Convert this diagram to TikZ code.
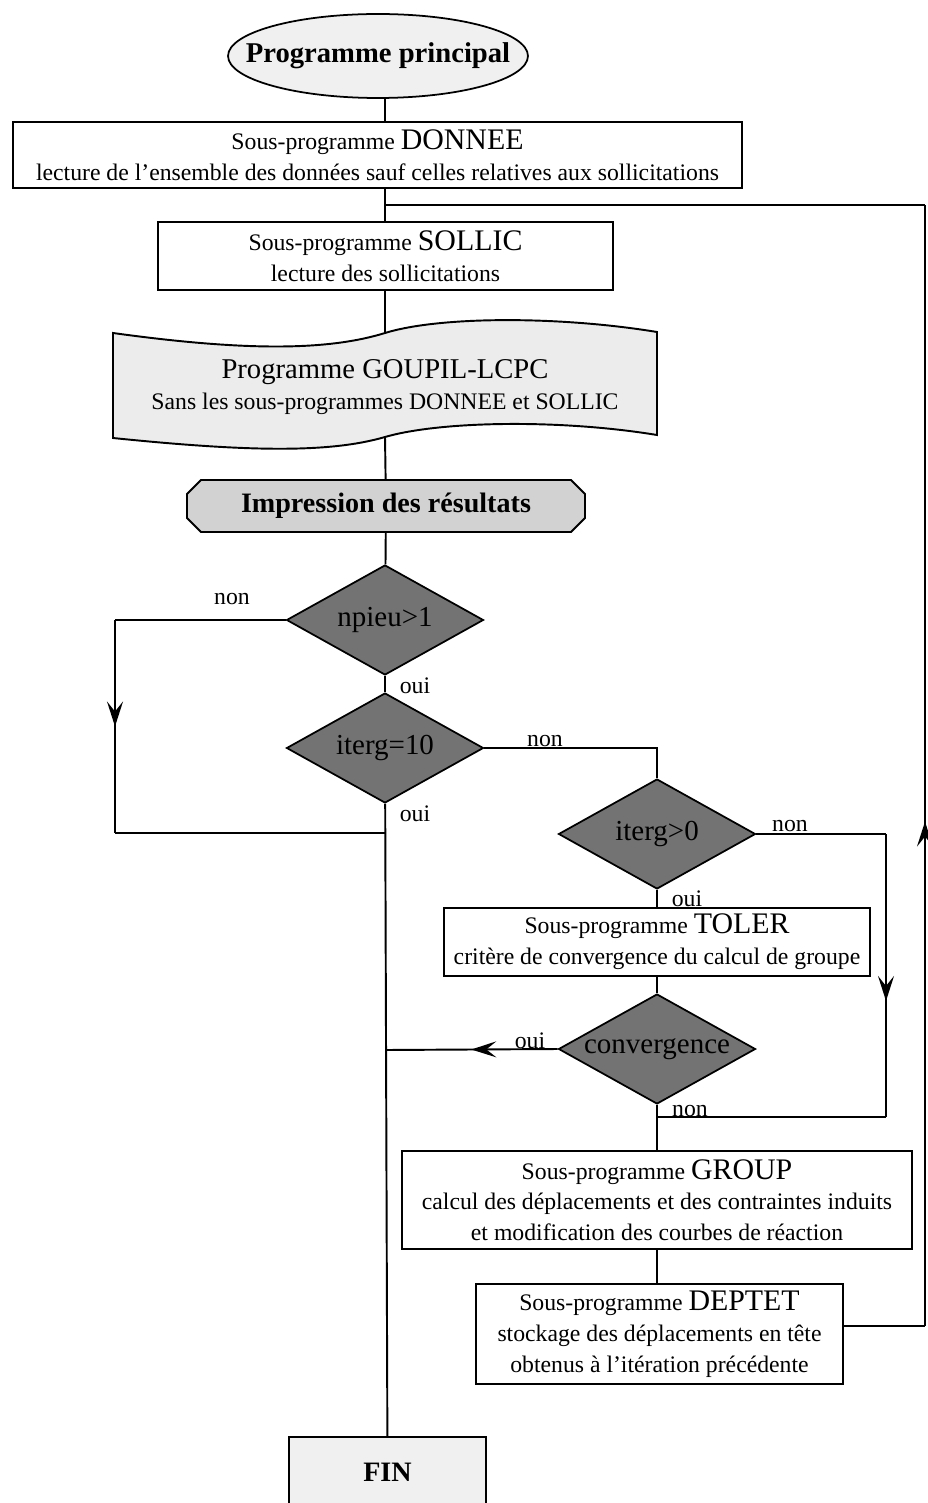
\documentclass[tikz,border=0pt]{standalone}
\usepackage{fontspec}
\setmainfont{Liberation Serif}
\usetikzlibrary{arrows.meta,shapes.geometric,decorations.markings}
\tikzset{
  box/.style={draw,line width=1pt,fill=white,align=center,inner sep=2pt,font=\fontsize{13.5}{17.5}\selectfont},
  test/.style={draw,line width=1pt,diamond,fill=black!55,inner sep=0pt,aspect=1.8,minimum width=3.94cm,minimum height=2.2cm,font=\fontsize{16.5}{16.5}\selectfont},
  ln/.style={line width=1.1pt},
  midarr/.style={ln,postaction={decorate},decoration={markings,mark=at position #1 with {\arrow{Stealth[length=5mm,width=3.2mm,inset=2mm]}}}},
  lbl/.style={font=\fontsize{13.5}{13.5}\selectfont,inner sep=1pt}
}
\newcommand{\sprog}[1]{Sous-programme {\fontsize{17}{17.5}\selectfont #1}}

\begin{document}
\begin{tikzpicture}[x=0.02cm,y=-0.02cm]
\useasboundingbox (0,0) rectangle (927,1503);
% upper part
\node[draw,line width=1pt,ellipse,fill=gray!12,minimum width=6cm,minimum height=1.68cm,inner sep=0pt,font=\fontsize{16.3}{16}\selectfont\bfseries] (start) at (378,56) {\makebox[0pt]{Programme principal}};
\node[box,minimum width=14.58cm,minimum height=1.32cm] (donnee) at (377.5,155) {\sprog{DONNEE}\\lecture de l'ensemble des données sauf celles relatives aux sollicitations};
\node[box,minimum width=9.1cm,minimum height=1.36cm] (sollic) at (385.5,256) {\sprog{SOLLIC}\\lecture des sollicitations};
\coordinate (gtop) at (385,333); \coordinate (gbot) at (385,437);
\draw[ln,fill=gray!15] (113,333) .. controls (250,352) and (330,350) .. (gtop) .. controls (440,316) and (560,316) .. (657,332)
  -- (657,435) .. controls (560,419) and (440,421) .. (gbot) .. controls (330,453) and (250,452) .. (113,438) -- cycle;
\node[align=center,font=\fontsize{13.5}{18}\selectfont] (goupil) at (385,387) {{\fontsize{16.3}{18}\selectfont Programme GOUPIL-LCPC}\\Sans les sous-programmes DONNEE et SOLLIC};
\draw[ln,fill=gray!35] (201,480) -- (571,480) -- (585,494) -- (585,518) -- (571,532) -- (201,532) -- (187,518) -- (187,494) -- cycle;
\node[inner sep=0pt,minimum width=7.96cm,minimum height=1.04cm,font=\fontsize{16}{16}\selectfont\bfseries] (impr) at (386,506) {Impression des résultats};
% tests
\node[test] (npieu) at (385,620) {npieu>1};
\node[test] (iterga) at (385,748) {iterg=10};
\node[test] (itergb) at (657,834) {iterg>0};
\node[box,minimum width=8.52cm,minimum height=1.36cm] (toler) at (657,942) {\sprog{TOLER}\\critère de convergence du calcul de groupe};
\node[test] (conv) at (657,1049) {convergence};
\node[box,minimum width=10.2cm,minimum height=1.96cm] (group) at (657,1200) {\sprog{GROUP}\\calcul des déplacements et des contraintes induits\\et modification des courbes de réaction};
\node[box,minimum width=7.34cm,minimum height=2cm] (deptet) at (659.5,1334) {\sprog{DEPTET}\\stockage des déplacements en tête\\obtenus à l'itération précédente};
\node[draw,line width=1pt,fill=gray!12,minimum width=3.94cm,minimum height=1.4cm,font=\fontsize{16}{16}\selectfont\bfseries] (fin) at (387.5,1472) {FIN};
% labels
\node[lbl] (non1) at (232,599) {non};
\node[lbl] (oui1) at (415,686) {oui};
\node[lbl] (non2) at (545,741) {non};
\node[lbl] (oui2) at (415,814) {oui};
\node[lbl] (non3) at (790,826) {non};
\node[lbl] (oui3) at (687,899) {oui};
\node[lbl] (oui4) at (530,1041) {oui};
\node[lbl] (non4) at (690,1111) {non};
% connectors
\coordinate (j0) at (385,205);
\coordinate (l1) at (115,620); \coordinate (l2) at (115,833); \coordinate (j1) at (385,833);
\coordinate (r1) at (657,748);
\coordinate (r3) at (886,834); \coordinate (r4) at (886,1117); \coordinate (j3) at (657,1117);
\coordinate (j2) at (385,1050);
\coordinate (r5) at (925,1326); \coordinate (r6) at (925,205);
\draw[ln] (j0 |- start.south) -- (j0 |- donnee.north);
\draw[ln] (j0 |- donnee.south) -- (j0 |- sollic.north);
\draw[ln] (j0 |- sollic.south) -- (gtop);
\draw[ln] (gbot) -- (impr);
\draw[ln] (impr) -- (npieu);
\draw[ln] (npieu) -- (iterga);
\draw[ln] (iterga) -- (fin);
\draw[ln] (npieu.west) -- (l1);
\draw[midarr=0.5] (l1) -- (l2);
\draw[ln] (l2) -- (j1);
\draw[ln] (iterga.east) -- (r1) -- (itergb.north);
\draw[ln] (itergb) -- (toler);
\draw[ln] (toler) -- (conv);
\draw[ln] (conv) -- (group);
\draw[ln] (itergb.east) -- (r3);
\draw[midarr=0.59] (r3) -- (r4);
\draw[ln] (r4) -- (j3);
\draw[midarr=0.5] (conv.west) -- (j2);
\draw[ln] (group.south -| r1) -- (deptet.north -| r1);
\draw[ln] (deptet.east |- r5) -- (r5);
\draw[midarr=0.45] (r5) -- (r6);
\draw[ln] (r6) -- (j0);
\end{tikzpicture}
\end{document}
